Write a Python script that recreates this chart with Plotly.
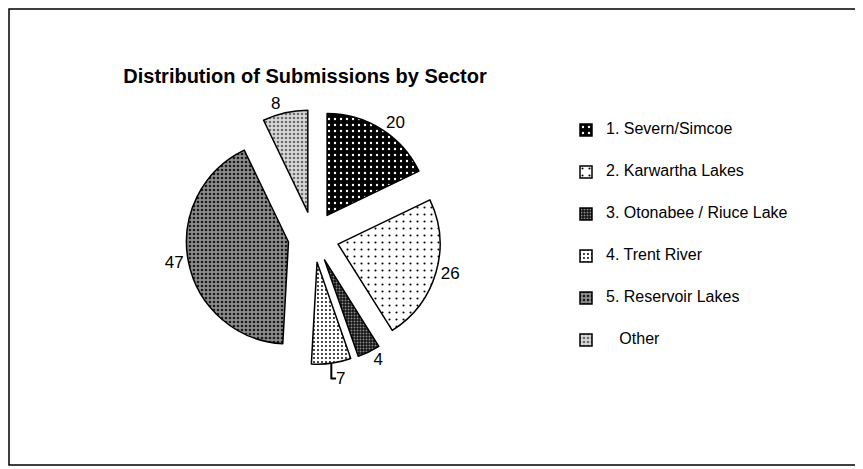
import plotly.graph_objects as go

# the page body has an 8px margin, so the figure starts at (8, 8) in the window
OFF = 8
W, H = 863 - OFF, 469 - OFF

# data
sectors = ["1. Severn/Simcoe", "2. Karwartha Lakes", "3. Otonabee / Riuce Lake",
           "4. Trent River", "5. Reservoir Lakes", "\u00a0\u00a0\u00a0Other"]
submissions = [20, 26, 4, 7, 47, 8]

# excel-ish fill patterns, one per slice
pat_shape = [".", ".", ".", ".", ".", "."]
pat_bg = ["#000000", "#ffffff", "#111111", "#ffffff", "#8c8c8c", "#d9d9d9"]
pat_fg = ["#ffffff", "#000000", "#8a8a8a", "#000000", "#1a1a1a", "#6e6e6e"]
pat_size = [6, 7, 3, 4, 4, 4]
pat_solid = [0.12, 0.07, 0.35, 0.18, 0.35, 0.35]


def px_x(v):
    # window pixel -> paper x
    return (v - OFF) / W


def px_y(v):
    # window pixel -> paper y
    return 1 - (v - OFF) / H


# pad legend labels to three lines so the entries sit ~42px apart
legend_labels = ["\u00a0<br><span style='font-size:16px'>%s</span><br>\u00a0" % s for s in sectors]

fig = go.Figure(go.Pie(
    labels=legend_labels,
    values=submissions,
    sort=False,
    direction="clockwise",
    rotation=0,
    pull=0.25,
    textinfo="value",
    textposition="outside",
    outsidetextfont=dict(size=17, color="black", family="Liberation Sans, Arial"),
    marker=dict(
        colors=pat_bg,
        line=dict(color="black", width=1.5),
        pattern=dict(shape=pat_shape, bgcolor=pat_bg, fgcolor=pat_fg,
                     size=pat_size, solidity=pat_solid),
    ),
    domain=dict(x=[px_x(186), px_x(441)], y=[px_y(366), px_y(108)]),
    hoverinfo="label+value",
))

fig.update_layout(
    width=W, height=H,
    margin=dict(l=0, r=0, t=0, b=0),
    paper_bgcolor="white",
    plot_bgcolor="white",
    font=dict(family="Liberation Sans, Arial", color="black"),
    title=dict(text="<b>Distribution of Submissions by Sector</b>",
               x=px_x(305), xanchor="center", y=px_y(76), yanchor="middle",
               font=dict(size=20, color="black")),
    legend=dict(x=px_x(566), xanchor="left", y=px_y(104), yanchor="top",
                font=dict(size=10, color="black"), bgcolor="rgba(0,0,0,0)",
                traceorder="normal"),
    shapes=[dict(type="rect", xref="paper", yref="paper",
                 x0=px_x(9), x1=px_x(857), y0=px_y(465), y1=px_y(9),
                 line=dict(color="black", width=1.5))],
)

fig.write_html("out.html")
